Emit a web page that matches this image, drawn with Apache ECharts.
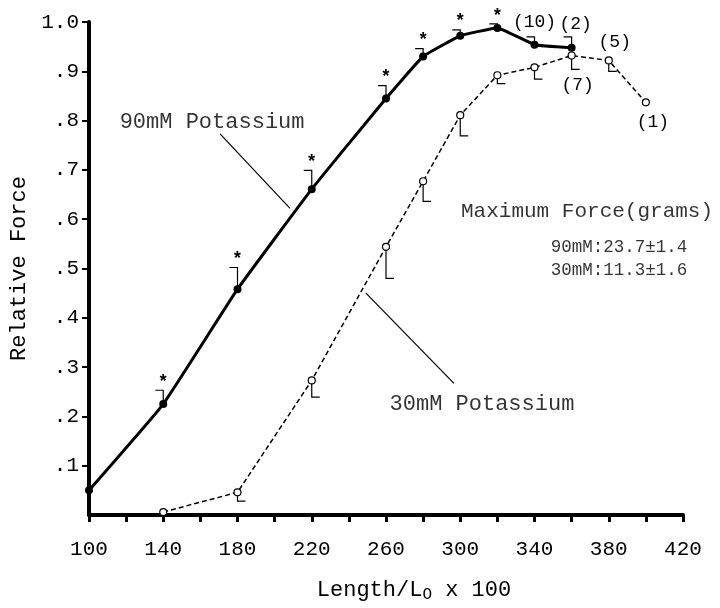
<!DOCTYPE html>
<html><head><meta charset="utf-8">
<script src="https://cdn.jsdelivr.net/npm/echarts@6/dist/echarts.min.js"></script>
<style>html,body{margin:0;padding:0;background:#fff}#c{width:720px;height:608px}</style>
</head><body><div id="c"></div>
<script>
// ---- data ----
const lengths90 = [100, 140, 180, 220, 260, 280, 300, 320, 340, 360];
const force90   = [0.05, 0.225, 0.458, 0.661, 0.845, 0.93, 0.972, 0.988, 0.954, 0.948];
const sem90     = [0, 0.028, 0.044, 0.038, 0.026, 0.016, 0.012, 0.008, 0.016, 0.022];
const signif90  = [0, 1, 1, 1, 1, 1, 1, 1, 0, 0];
const nText90   = ['', '', '', '', '', '', '', '', '(10)', '(2)'];

const lengths30 = [140, 180, 220, 260, 280, 300, 320, 340, 360, 380, 400];
const force30   = [0.006, 0.046, 0.273, 0.544, 0.677, 0.811, 0.892, 0.908, 0.932, 0.922, 0.837];
const sem30     = [0, 0.018, 0.034, 0.064, 0.041, 0.042, 0.017, 0.024, 0.028, 0.022, 0];
const nText30   = ['', '', '', '', '', '', '', '', '(7)', '(5)', '(1)'];

const xTicks      = [100, 120, 140, 160, 180, 200, 220, 240, 260, 280, 300, 320, 340, 360, 380, 400, 420];
const xTickLabels = [100, 140, 180, 220, 260, 300, 340, 380, 420];
const yTicks      = [0.1, 0.2, 0.3, 0.4, 0.5, 0.6, 0.7, 0.8, 0.9, 1.0];

const seriesNames = ['90mM Potassium', '30mM Potassium'];
const maxForceTitle = 'Maximum Force(grams)';
const maxForceLines = ['90mM:23.7\u00b11.4', '30mM:11.3\u00b11.6'];

// ---- styling / annotation placement ----
const FONT = '"Liberation Mono", "DejaVu Sans Mono", monospace';
const nPlacement = {
  '(10)': {position: 'top', distance: 9, offset: [0, 0]},
  '(2)':  {position: 'top', distance: 10, offset: [4, 0]},
  '(5)':  {position: 'top', distance: 5, offset: [6, 0]},
  '(7)':  {position: 'bottom', distance: 17, offset: [6, 0]},
  '(1)':  {position: 'bottom', distance: 7, offset: [7, 0]}
};
const textAnchors = [
  {name: seriesNames[0], at: [166.3, 0.797], size: 22},
  {name: seriesNames[1], at: [311.7, 0.224], size: 22},
  {name: maxForceTitle,  at: [368.3, 0.616], size: 21},
  {name: maxForceLines[0], at: [385.5, 0.542], size: 17.5},
  {name: maxForceLines[1], at: [385.5, 0.496], size: 17.5}
];
const leaders = [
  [[170.6, 0.773], [208.3, 0.622]],
  [[249.2, 0.450], [296.6, 0.267]]
];

function lineData(xs, ys, texts) {
  return xs.map((x, i) => {
    const item = {value: [x, ys[i]]};
    if (texts[i]) {
      const p = nPlacement[texts[i]];
      item.label = {show: true, formatter: texts[i], position: p.position, distance: p.distance,
        offset: p.offset, fontFamily: FONT, fontSize: 18, color: '#000'};
    }
    return item;
  });
}

function errRender(dir) {
  return function (params, api) {
    const x = api.value(0), y = api.value(1), e = api.value(2), s = api.value(3);
    const p0 = api.coord([x, y]);
    const p1 = api.coord([x, y + dir * e]);
    const children = [];
    if (e > 0) {
      const h = dir > 0 ? -8 : 8;
      children.push({
        type: 'polyline',
        shape: {points: [[p0[0], p0[1]], [p1[0], p1[1]], [p1[0] + h, p1[1]]]},
        style: {stroke: '#000', lineWidth: 1.2, fill: null}
      });
    }
    if (s) {
      children.push({
        type: 'text',
        style: {text: '*', x: p1[0], y: p1[1] + 1, align: 'center', verticalAlign: 'bottom',
          font: 'bold 18px ' + FONT, fill: '#000'}
      });
    }
    return {type: 'group', children};
  };
}

const chart = echarts.init(document.getElementById('c'), null, {renderer: 'canvas'});
const option = {
  backgroundColor: '#fff',
  animation: false,
  grid: {left: 89, right: 37, top: 22, bottom: 88, containLabel: false},
  xAxis: {
    type: 'value', min: 100, max: 420,
    name: 'Length/L{sub|O} x 100',
    nameLocation: 'middle', nameGap: 62,
    nameTextStyle: {fontFamily: FONT, fontSize: 22, color: '#000', padding: [0, 0, 0, 56],
      rich: {sub: {fontFamily: FONT, fontSize: 16, color: '#000', padding: [10, 0, 0, 0]}}},
    axisLine: {show: true, onZero: false, lineStyle: {color: '#000', width: 4}},
    axisTick: {show: true, customValues: xTicks, length: 7, lineStyle: {color: '#000', width: 3}},
    axisLabel: {customValues: xTickLabels, margin: 24, fontFamily: FONT, fontSize: 21, color: '#000'},
    splitLine: {show: false}
  },
  yAxis: {
    type: 'value', min: 0, max: 1,
    name: 'Relative Force',
    nameLocation: 'middle', nameGap: 58, nameRotate: 90,
    nameTextStyle: {fontFamily: FONT, fontSize: 22, color: '#000'},
    axisLine: {show: true, onZero: false, lineStyle: {color: '#000', width: 4}},
    axisTick: {show: true, customValues: yTicks, length: 7, lineStyle: {color: '#000', width: 2}},
    axisLabel: {customValues: yTicks, margin: 10, fontFamily: FONT, fontSize: 21, color: '#000',
      formatter: v => v >= 0.999 ? '1.0' : '.' + Math.round(v * 10)},
    splitLine: {show: false}
  },
  series: [
    {
      name: seriesNames[0] + ' SEM', type: 'custom', z: 1,
      renderItem: errRender(1),
      data: lengths90.map((x, i) => [x, force90[i], sem90[i], signif90[i]])
    },
    {
      name: seriesNames[1] + ' SEM', type: 'custom', z: 1,
      renderItem: errRender(-1),
      data: lengths30.map((x, i) => [x, force30[i], sem30[i], 0])
    },
    {
      name: seriesNames[1], type: 'line', z: 3,
      data: lineData(lengths30, force30, nText30),
      symbol: 'circle', symbolSize: 7,
      lineStyle: {color: '#000', width: 1.5, type: [5, 3]},
      itemStyle: {color: '#fff', borderColor: '#000', borderWidth: 1.2}
    },
    {
      name: seriesNames[0], type: 'line', z: 4, smooth: 0.1,
      data: lineData(lengths90, force90, nText90),
      symbol: 'circle', symbolSize: 8,
      lineStyle: {color: '#000', width: 3},
      itemStyle: {color: '#000'}
    },
    {
      name: 'leaders', type: 'lines', coordinateSystem: 'cartesian2d', z: 2,
      data: leaders.map(c => ({coords: c})),
      lineStyle: {color: '#000', width: 1.2, opacity: 1}
    },
    {
      name: 'annotations', type: 'scatter', z: 5, symbolSize: 1,
      itemStyle: {color: 'transparent'},
      data: textAnchors.map(a => ({name: a.name, value: a.at,
        label: {show: true, position: 'inside', formatter: '{b}', fontFamily: FONT, fontSize: a.size, color: '#000'}}))
    }
  ]
};
chart.setOption(option);
</script>
</body></html>
